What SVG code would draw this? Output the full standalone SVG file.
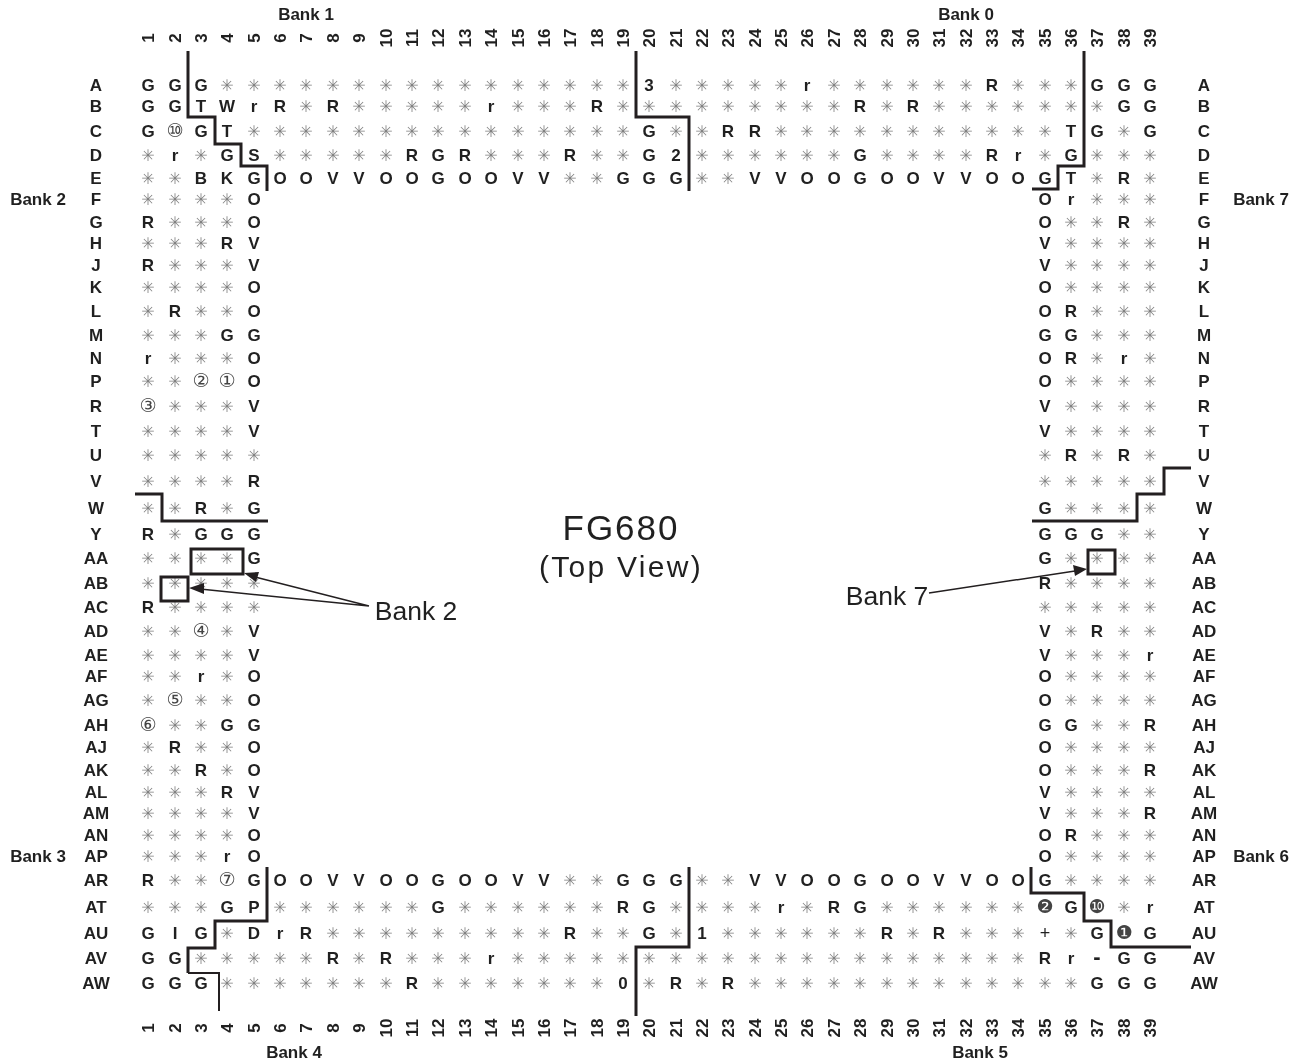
<svg xmlns="http://www.w3.org/2000/svg" width="1300" height="1064" viewBox="0 0 1300 1064">
<defs><filter id="gray" x="0" y="0" width="1300" height="1064" filterUnits="userSpaceOnUse" color-interpolation-filters="sRGB"><feColorMatrix type="saturate" values="0"/></filter></defs>
<style>
text{font-family:"Liberation Sans",Arial,sans-serif;font-weight:700;font-size:17px;fill:#231f20;text-anchor:middle}
.s{font-family:"DejaVu Sans",sans-serif;font-weight:400;font-size:16px;fill:#808080}
.c{font-family:"DejaVu Sans",sans-serif;font-weight:400;font-size:19px;fill:#444}
.p{font-weight:400;font-size:18px}
.m{font-size:22px}
.t{font-weight:400}
.g{filter:url(#gray)}
.w{fill:none;stroke:#231f20;stroke-width:3}
.a{fill:none;stroke:#231f20;stroke-width:1.5}
.h{fill:#231f20}
</style>
<rect width="1300" height="1064" fill="#fff"/>
<g id="bank-labels" class="g">
<text x="306" y="20">Bank 1</text>
<text x="966" y="20">Bank 0</text>
<text x="38" y="205">Bank 2</text>
<text x="1261" y="205">Bank 7</text>
<text x="38" y="862">Bank 3</text>
<text x="1261" y="862">Bank 6</text>
<text x="294" y="1058">Bank 4</text>
<text x="980" y="1058">Bank 5</text>
</g>
<g id="title" class="g">
<text class="t" x="621" y="540" style="font-size:35px;letter-spacing:2px">FG680</text>
<text class="t" x="621" y="577" style="font-size:30px;letter-spacing:2.3px">(Top View)</text>
<text class="t" x="416" y="620" style="font-size:26.5px">Bank 2</text>
<text class="t" x="887" y="605" style="font-size:26.5px">Bank 7</text>
</g>
<g id="column-numbers-top" class="g">
<text transform="translate(154 38) rotate(-90)">1</text><text transform="translate(181 38) rotate(-90)">2</text><text transform="translate(207 38) rotate(-90)">3</text><text transform="translate(233 38) rotate(-90)">4</text><text transform="translate(260 38) rotate(-90)">5</text><text transform="translate(286 38) rotate(-90)">6</text><text transform="translate(312 38) rotate(-90)">7</text><text transform="translate(339 38) rotate(-90)">8</text><text transform="translate(365 38) rotate(-90)">9</text><text transform="translate(392 38) rotate(-90)">10</text><text transform="translate(418 38) rotate(-90)">11</text><text transform="translate(444 38) rotate(-90)">12</text><text transform="translate(471 38) rotate(-90)">13</text><text transform="translate(497 38) rotate(-90)">14</text><text transform="translate(524 38) rotate(-90)">15</text><text transform="translate(550 38) rotate(-90)">16</text><text transform="translate(576 38) rotate(-90)">17</text><text transform="translate(603 38) rotate(-90)">18</text><text transform="translate(629 38) rotate(-90)">19</text><text transform="translate(655 38) rotate(-90)">20</text><text transform="translate(682 38) rotate(-90)">21</text><text transform="translate(708 38) rotate(-90)">22</text><text transform="translate(734 38) rotate(-90)">23</text><text transform="translate(761 38) rotate(-90)">24</text><text transform="translate(787 38) rotate(-90)">25</text><text transform="translate(813 38) rotate(-90)">26</text><text transform="translate(840 38) rotate(-90)">27</text><text transform="translate(866 38) rotate(-90)">28</text><text transform="translate(893 38) rotate(-90)">29</text><text transform="translate(919 38) rotate(-90)">30</text><text transform="translate(945 38) rotate(-90)">31</text><text transform="translate(972 38) rotate(-90)">32</text><text transform="translate(998 38) rotate(-90)">33</text><text transform="translate(1024 38) rotate(-90)">34</text><text transform="translate(1051 38) rotate(-90)">35</text><text transform="translate(1077 38) rotate(-90)">36</text><text transform="translate(1103 38) rotate(-90)">37</text><text transform="translate(1130 38) rotate(-90)">38</text><text transform="translate(1156 38) rotate(-90)">39</text>
</g>
<g id="column-numbers-bottom" class="g">
<text transform="translate(154 1028) rotate(-90)">1</text><text transform="translate(181 1028) rotate(-90)">2</text><text transform="translate(207 1028) rotate(-90)">3</text><text transform="translate(233 1028) rotate(-90)">4</text><text transform="translate(260 1028) rotate(-90)">5</text><text transform="translate(286 1028) rotate(-90)">6</text><text transform="translate(312 1028) rotate(-90)">7</text><text transform="translate(339 1028) rotate(-90)">8</text><text transform="translate(365 1028) rotate(-90)">9</text><text transform="translate(392 1028) rotate(-90)">10</text><text transform="translate(418 1028) rotate(-90)">11</text><text transform="translate(444 1028) rotate(-90)">12</text><text transform="translate(471 1028) rotate(-90)">13</text><text transform="translate(497 1028) rotate(-90)">14</text><text transform="translate(524 1028) rotate(-90)">15</text><text transform="translate(550 1028) rotate(-90)">16</text><text transform="translate(576 1028) rotate(-90)">17</text><text transform="translate(603 1028) rotate(-90)">18</text><text transform="translate(629 1028) rotate(-90)">19</text><text transform="translate(655 1028) rotate(-90)">20</text><text transform="translate(682 1028) rotate(-90)">21</text><text transform="translate(708 1028) rotate(-90)">22</text><text transform="translate(734 1028) rotate(-90)">23</text><text transform="translate(761 1028) rotate(-90)">24</text><text transform="translate(787 1028) rotate(-90)">25</text><text transform="translate(813 1028) rotate(-90)">26</text><text transform="translate(840 1028) rotate(-90)">27</text><text transform="translate(866 1028) rotate(-90)">28</text><text transform="translate(893 1028) rotate(-90)">29</text><text transform="translate(919 1028) rotate(-90)">30</text><text transform="translate(945 1028) rotate(-90)">31</text><text transform="translate(972 1028) rotate(-90)">32</text><text transform="translate(998 1028) rotate(-90)">33</text><text transform="translate(1024 1028) rotate(-90)">34</text><text transform="translate(1051 1028) rotate(-90)">35</text><text transform="translate(1077 1028) rotate(-90)">36</text><text transform="translate(1103 1028) rotate(-90)">37</text><text transform="translate(1130 1028) rotate(-90)">38</text><text transform="translate(1156 1028) rotate(-90)">39</text>
</g>
<g id="row-labels" class="g">
<text x="96" y="91">A</text><text x="1204" y="91">A</text>
<text x="96" y="112">B</text><text x="1204" y="112">B</text>
<text x="96" y="137">C</text><text x="1204" y="137">C</text>
<text x="96" y="161">D</text><text x="1204" y="161">D</text>
<text x="96" y="184">E</text><text x="1204" y="184">E</text>
<text x="96" y="205">F</text><text x="1204" y="205">F</text>
<text x="96" y="228">G</text><text x="1204" y="228">G</text>
<text x="96" y="249">H</text><text x="1204" y="249">H</text>
<text x="96" y="271">J</text><text x="1204" y="271">J</text>
<text x="96" y="293">K</text><text x="1204" y="293">K</text>
<text x="96" y="317">L</text><text x="1204" y="317">L</text>
<text x="96" y="341">M</text><text x="1204" y="341">M</text>
<text x="96" y="364">N</text><text x="1204" y="364">N</text>
<text x="96" y="387">P</text><text x="1204" y="387">P</text>
<text x="96" y="412">R</text><text x="1204" y="412">R</text>
<text x="96" y="437">T</text><text x="1204" y="437">T</text>
<text x="96" y="461">U</text><text x="1204" y="461">U</text>
<text x="96" y="487">V</text><text x="1204" y="487">V</text>
<text x="96" y="514">W</text><text x="1204" y="514">W</text>
<text x="96" y="540">Y</text><text x="1204" y="540">Y</text>
<text x="96" y="564">AA</text><text x="1204" y="564">AA</text>
<text x="96" y="589">AB</text><text x="1204" y="589">AB</text>
<text x="96" y="613">AC</text><text x="1204" y="613">AC</text>
<text x="96" y="637">AD</text><text x="1204" y="637">AD</text>
<text x="96" y="661">AE</text><text x="1204" y="661">AE</text>
<text x="96" y="682">AF</text><text x="1204" y="682">AF</text>
<text x="96" y="706">AG</text><text x="1204" y="706">AG</text>
<text x="96" y="731">AH</text><text x="1204" y="731">AH</text>
<text x="96" y="753">AJ</text><text x="1204" y="753">AJ</text>
<text x="96" y="776">AK</text><text x="1204" y="776">AK</text>
<text x="96" y="798">AL</text><text x="1204" y="798">AL</text>
<text x="96" y="819">AM</text><text x="1204" y="819">AM</text>
<text x="96" y="841">AN</text><text x="1204" y="841">AN</text>
<text x="96" y="862">AP</text><text x="1204" y="862">AP</text>
<text x="96" y="886">AR</text><text x="1204" y="886">AR</text>
<text x="96" y="913">AT</text><text x="1204" y="913">AT</text>
<text x="96" y="939">AU</text><text x="1204" y="939">AU</text>
<text x="96" y="964">AV</text><text x="1204" y="964">AV</text>
<text x="96" y="989">AW</text><text x="1204" y="989">AW</text>
</g>
<g id="pin-grid" class="g">
<text y="91" x="148 175 201 227 254 280 306 333 359 386 412 438 465 491 518 544 570 597 623 649 676 702 728 755 781 807 834 860 887 913 939 966 992 1018 1045 1071 1097 1124 1150">GGG<tspan class="s">✳✳✳✳✳✳✳✳✳✳✳✳✳✳✳✳</tspan>3<tspan class="s">✳✳✳✳✳</tspan>r<tspan class="s">✳✳✳✳✳✳</tspan>R<tspan class="s">✳✳✳</tspan>GGG</text>
<text y="112" x="148 175 201 227 254 280 306 333 359 386 412 438 465 491 518 544 570 597 623 649 676 702 728 755 781 807 834 860 887 913 939 966 992 1018 1045 1071 1097 1124 1150">GGTWrR<tspan class="s">✳</tspan>R<tspan class="s">✳✳✳✳✳</tspan>r<tspan class="s">✳✳✳</tspan>R<tspan class="s">✳✳✳✳✳✳✳✳✳</tspan>R<tspan class="s">✳</tspan>R<tspan class="s">✳✳✳✳✳✳✳</tspan>GG</text>
<text y="137" x="148 175 201 227 254 280 306 333 359 386 412 438 465 491 518 544 570 597 623 649 676 702 728 755 781 807 834 860 887 913 939 966 992 1018 1045 1071 1097 1124 1150">G<tspan class="c">⑩</tspan>GT<tspan class="s">✳✳✳✳✳✳✳✳✳✳✳✳✳✳✳</tspan>G<tspan class="s">✳✳</tspan>RR<tspan class="s">✳✳✳✳✳✳✳✳✳✳✳</tspan>TG<tspan class="s">✳</tspan>G</text>
<text y="161" x="148 175 201 227 254 280 306 333 359 386 412 438 465 491 518 544 570 597 623 649 676 702 728 755 781 807 834 860 887 913 939 966 992 1018 1045 1071 1097 1124 1150"><tspan class="s">✳</tspan>r<tspan class="s">✳</tspan>GS<tspan class="s">✳✳✳✳✳</tspan>RGR<tspan class="s">✳✳✳</tspan>R<tspan class="s">✳✳</tspan>G2<tspan class="s">✳✳✳✳✳✳</tspan>G<tspan class="s">✳✳✳✳</tspan>Rr<tspan class="s">✳</tspan>G<tspan class="s">✳✳✳</tspan></text>
<text y="184" x="148 175 201 227 254 280 306 333 359 386 412 438 465 491 518 544 570 597 623 649 676 702 728 755 781 807 834 860 887 913 939 966 992 1018 1045 1071 1097 1124 1150"><tspan class="s">✳✳</tspan>BKGOOVVOOGOOVV<tspan class="s">✳✳</tspan>GGG<tspan class="s">✳✳</tspan>VVOOGOOVVOOGT<tspan class="s">✳</tspan>R<tspan class="s">✳</tspan></text>
<text y="205" x="148 175 201 227 254"><tspan class="s">✳✳✳✳</tspan>O</text><text y="205" x="1045 1071 1097 1124 1150">Or<tspan class="s">✳✳✳</tspan></text>
<text y="228" x="148 175 201 227 254">R<tspan class="s">✳✳✳</tspan>O</text><text y="228" x="1045 1071 1097 1124 1150">O<tspan class="s">✳✳</tspan>R<tspan class="s">✳</tspan></text>
<text y="249" x="148 175 201 227 254"><tspan class="s">✳✳✳</tspan>RV</text><text y="249" x="1045 1071 1097 1124 1150">V<tspan class="s">✳✳✳✳</tspan></text>
<text y="271" x="148 175 201 227 254">R<tspan class="s">✳✳✳</tspan>V</text><text y="271" x="1045 1071 1097 1124 1150">V<tspan class="s">✳✳✳✳</tspan></text>
<text y="293" x="148 175 201 227 254"><tspan class="s">✳✳✳✳</tspan>O</text><text y="293" x="1045 1071 1097 1124 1150">O<tspan class="s">✳✳✳✳</tspan></text>
<text y="317" x="148 175 201 227 254"><tspan class="s">✳</tspan>R<tspan class="s">✳✳</tspan>O</text><text y="317" x="1045 1071 1097 1124 1150">OR<tspan class="s">✳✳✳</tspan></text>
<text y="341" x="148 175 201 227 254"><tspan class="s">✳✳✳</tspan>GG</text><text y="341" x="1045 1071 1097 1124 1150">GG<tspan class="s">✳✳✳</tspan></text>
<text y="364" x="148 175 201 227 254">r<tspan class="s">✳✳✳</tspan>O</text><text y="364" x="1045 1071 1097 1124 1150">OR<tspan class="s">✳</tspan>r<tspan class="s">✳</tspan></text>
<text y="387" x="148 175 201 227 254"><tspan class="s">✳✳</tspan><tspan class="c">②①</tspan>O</text><text y="387" x="1045 1071 1097 1124 1150">O<tspan class="s">✳✳✳✳</tspan></text>
<text y="412" x="148 175 201 227 254"><tspan class="c">③</tspan><tspan class="s">✳✳✳</tspan>V</text><text y="412" x="1045 1071 1097 1124 1150">V<tspan class="s">✳✳✳✳</tspan></text>
<text y="437" x="148 175 201 227 254"><tspan class="s">✳✳✳✳</tspan>V</text><text y="437" x="1045 1071 1097 1124 1150">V<tspan class="s">✳✳✳✳</tspan></text>
<text y="461" x="148 175 201 227 254"><tspan class="s">✳✳✳✳✳</tspan></text><text y="461" x="1045 1071 1097 1124 1150"><tspan class="s">✳</tspan>R<tspan class="s">✳</tspan>R<tspan class="s">✳</tspan></text>
<text y="487" x="148 175 201 227 254"><tspan class="s">✳✳✳✳</tspan>R</text><text y="487" x="1045 1071 1097 1124 1150"><tspan class="s">✳✳✳✳✳</tspan></text>
<text y="514" x="148 175 201 227 254"><tspan class="s">✳✳</tspan>R<tspan class="s">✳</tspan>G</text><text y="514" x="1045 1071 1097 1124 1150">G<tspan class="s">✳✳✳✳</tspan></text>
<text y="540" x="148 175 201 227 254">R<tspan class="s">✳</tspan>GGG</text><text y="540" x="1045 1071 1097 1124 1150">GGG<tspan class="s">✳✳</tspan></text>
<text y="564" x="148 175 201 227 254"><tspan class="s">✳✳✳✳</tspan>G</text><text y="564" x="1045 1071 1097 1124 1150">G<tspan class="s">✳✳✳✳</tspan></text>
<text y="589" x="148 175 201 227 254"><tspan class="s">✳✳✳✳✳</tspan></text><text y="589" x="1045 1071 1097 1124 1150">R<tspan class="s">✳✳✳✳</tspan></text>
<text y="613" x="148 175 201 227 254">R<tspan class="s">✳✳✳✳</tspan></text><text y="613" x="1045 1071 1097 1124 1150"><tspan class="s">✳✳✳✳✳</tspan></text>
<text y="637" x="148 175 201 227 254"><tspan class="s">✳✳</tspan><tspan class="c">④</tspan><tspan class="s">✳</tspan>V</text><text y="637" x="1045 1071 1097 1124 1150">V<tspan class="s">✳</tspan>R<tspan class="s">✳✳</tspan></text>
<text y="661" x="148 175 201 227 254"><tspan class="s">✳✳✳✳</tspan>V</text><text y="661" x="1045 1071 1097 1124 1150">V<tspan class="s">✳✳✳</tspan>r</text>
<text y="682" x="148 175 201 227 254"><tspan class="s">✳✳</tspan>r<tspan class="s">✳</tspan>O</text><text y="682" x="1045 1071 1097 1124 1150">O<tspan class="s">✳✳✳✳</tspan></text>
<text y="706" x="148 175 201 227 254"><tspan class="s">✳</tspan><tspan class="c">⑤</tspan><tspan class="s">✳✳</tspan>O</text><text y="706" x="1045 1071 1097 1124 1150">O<tspan class="s">✳✳✳✳</tspan></text>
<text y="731" x="148 175 201 227 254"><tspan class="c">⑥</tspan><tspan class="s">✳✳</tspan>GG</text><text y="731" x="1045 1071 1097 1124 1150">GG<tspan class="s">✳✳</tspan>R</text>
<text y="753" x="148 175 201 227 254"><tspan class="s">✳</tspan>R<tspan class="s">✳✳</tspan>O</text><text y="753" x="1045 1071 1097 1124 1150">O<tspan class="s">✳✳✳✳</tspan></text>
<text y="776" x="148 175 201 227 254"><tspan class="s">✳✳</tspan>R<tspan class="s">✳</tspan>O</text><text y="776" x="1045 1071 1097 1124 1150">O<tspan class="s">✳✳✳</tspan>R</text>
<text y="798" x="148 175 201 227 254"><tspan class="s">✳✳✳</tspan>RV</text><text y="798" x="1045 1071 1097 1124 1150">V<tspan class="s">✳✳✳✳</tspan></text>
<text y="819" x="148 175 201 227 254"><tspan class="s">✳✳✳✳</tspan>V</text><text y="819" x="1045 1071 1097 1124 1150">V<tspan class="s">✳✳✳</tspan>R</text>
<text y="841" x="148 175 201 227 254"><tspan class="s">✳✳✳✳</tspan>O</text><text y="841" x="1045 1071 1097 1124 1150">OR<tspan class="s">✳✳✳</tspan></text>
<text y="862" x="148 175 201 227 254"><tspan class="s">✳✳✳</tspan>rO</text><text y="862" x="1045 1071 1097 1124 1150">O<tspan class="s">✳✳✳✳</tspan></text>
<text y="886" x="148 175 201 227 254 280 306 333 359 386 412 438 465 491 518 544 570 597 623 649 676 702 728 755 781 807 834 860 887 913 939 966 992 1018 1045 1071 1097 1124 1150">R<tspan class="s">✳✳</tspan><tspan class="c">⑦</tspan>GOOVVOOGOOVV<tspan class="s">✳✳</tspan>GGG<tspan class="s">✳✳</tspan>VVOOGOOVVOOG<tspan class="s">✳✳✳✳</tspan></text>
<text y="913" x="148 175 201 227 254 280 306 333 359 386 412 438 465 491 518 544 570 597 623 649 676 702 728 755 781 807 834 860 887 913 939 966 992 1018 1045 1071 1097 1124 1150"><tspan class="s">✳✳✳</tspan>GP<tspan class="s">✳✳✳✳✳✳</tspan>G<tspan class="s">✳✳✳✳✳✳</tspan>RG<tspan class="s">✳✳✳✳</tspan>r<tspan class="s">✳</tspan>RG<tspan class="s">✳✳✳✳✳✳</tspan><tspan class="c">❷</tspan>G<tspan class="c">❿</tspan><tspan class="s">✳</tspan>r</text>
<text y="939" x="148 175 201 227 254 280 306 333 359 386 412 438 465 491 518 544 570 597 623 649 676 702 728 755 781 807 834 860 887 913 939 966 992 1018 1045 1071 1097 1124 1150">GIG<tspan class="s">✳</tspan>DrR<tspan class="s">✳✳✳✳✳✳✳✳✳</tspan>R<tspan class="s">✳✳</tspan>G<tspan class="s">✳</tspan>1<tspan class="s">✳✳✳✳✳✳</tspan>R<tspan class="s">✳</tspan>R<tspan class="s">✳✳✳</tspan><tspan class="p">+</tspan><tspan class="s">✳</tspan>G<tspan class="c">❶</tspan>G</text>
<text y="964" x="148 175 201 227 254 280 306 333 359 386 412 438 465 491 518 544 570 597 623 649 676 702 728 755 781 807 834 860 887 913 939 966 992 1018 1045 1071 1097 1124 1150">GG<tspan class="s">✳✳✳✳✳</tspan>R<tspan class="s">✳</tspan>R<tspan class="s">✳✳✳</tspan>r<tspan class="s">✳✳✳✳✳✳✳✳✳✳✳✳✳✳✳✳✳✳✳✳</tspan>Rr<tspan class="m">-</tspan>GG</text>
<text y="989" x="148 175 201 227 254 280 306 333 359 386 412 438 465 491 518 544 570 597 623 649 676 702 728 755 781 807 834 860 887 913 939 966 992 1018 1045 1071 1097 1124 1150">GGG<tspan class="s">✳✳✳✳✳✳✳</tspan>R<tspan class="s">✳✳✳✳✳✳✳</tspan>0<tspan class="s">✳</tspan>R<tspan class="s">✳</tspan>R<tspan class="s">✳✳✳✳✳✳✳✳✳✳✳✳✳</tspan>GGG</text>
</g>
<g id="connectors">
<path class="w" d="M188 51V117H215V144H241V166H267V191"/>
<path class="w" d="M636 51V117H689V191"/>
<path class="w" d="M1084 51V166H1058V189H1032"/>
<path class="w" d="M135 494H162V521H268"/>
<path class="w" d="M1191 468H1164V494H1137V521H1032"/>
<path class="w" d="M267 867V921H215V948H188V973"/>
<path style="fill:none;stroke:#231f20;stroke-width:2" d="M188 973H219V1011"/>
<path class="w" d="M689 867V947H636V1016"/>
<path class="w" d="M1031 867V893H1084V921H1111V947H1191"/>
<rect class="w" x="191" y="549" width="52" height="25"/>
<rect class="w" x="161" y="577" width="27" height="24"/>
<rect class="w" x="1088" y="550" width="27" height="24"/>
<path class="a" d="M369 606L255 577M369 606L200 589M929 593L1075 571"/>
<path class="h" d="M244 573L259 572L256 582Z"/>
<path class="h" d="M189 588L204 583L204 594Z"/>
<path class="h" d="M1087 569L1073 565L1075 576Z"/>
</g>
</svg>
